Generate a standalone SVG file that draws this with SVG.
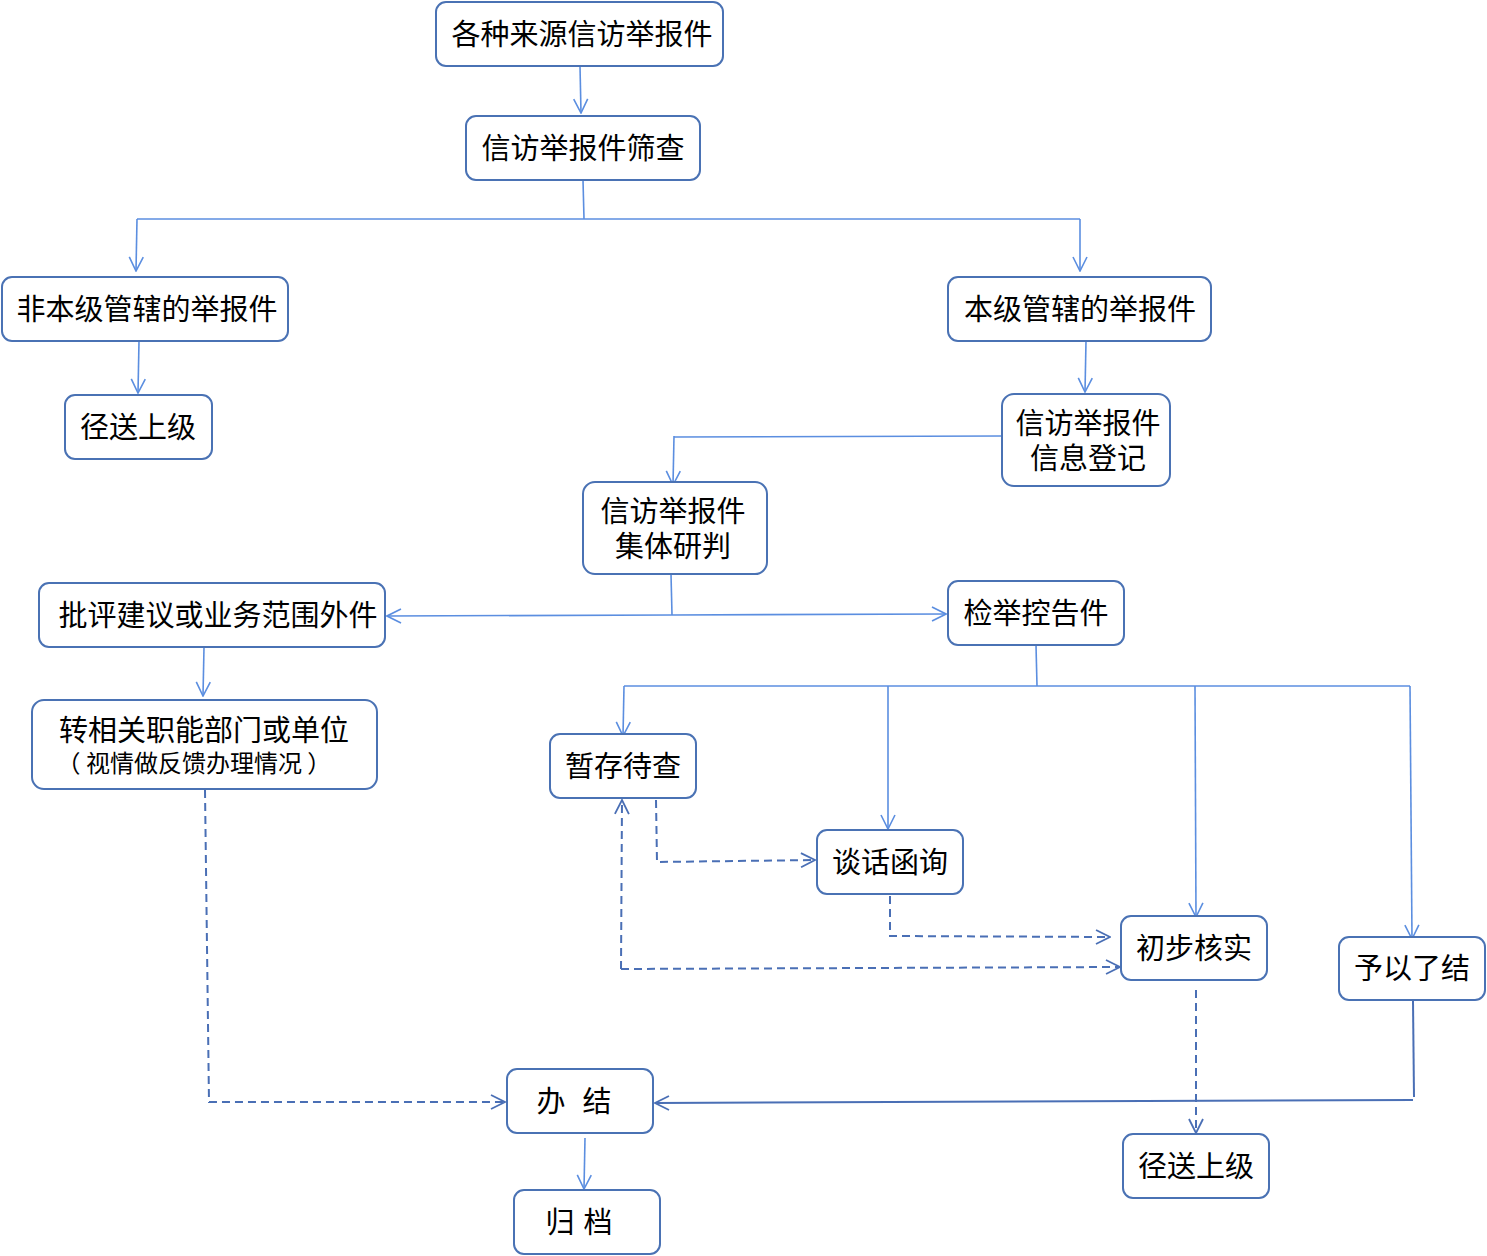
<svg xmlns="http://www.w3.org/2000/svg" width="1487" height="1256" viewBox="0 0 1487 1256">
<style>
.box{fill:#fff;stroke:#4a72b4;stroke-width:2}
.t{font-family:"Noto Sans CJK SC","Noto Sans",sans-serif;font-size:29px;fill:#000;text-anchor:middle}
.s{font-size:24px}
.c{fill:none;stroke:#5b8ee0;stroke-width:1.6}
.d{fill:none;stroke:#4a6fb5;stroke-width:2;stroke-dasharray:8,5}
.k{fill:none;stroke:#4a6fb5;stroke-width:2}
</style>
<defs>
<marker id="a" viewBox="0 0 16 16" refX="15" refY="8" markerWidth="16" markerHeight="16" markerUnits="userSpaceOnUse" orient="auto">
<path d="M1,1 L15,8 L1,15" fill="none" stroke="#5b8ee0" stroke-width="1.6"/>
</marker>
<marker id="b" viewBox="0 0 16 16" refX="15" refY="8" markerWidth="16" markerHeight="16" markerUnits="userSpaceOnUse" orient="auto">
<path d="M1,1 L15,8 L1,15" fill="none" stroke="#4a6fb5" stroke-width="1.8"/>
</marker>
</defs>
<g id="connectors">
<path class="c" d="M580,66 L581,113" marker-end="url(#a)"/>
<path class="c" d="M583,180 L584,219"/>
<path class="c" d="M137,219 L1080,219"/>
<path class="c" d="M137,219 L136,271" marker-end="url(#a)"/>
<path class="c" d="M1080,219 L1080,271" marker-end="url(#a)"/>
<path class="c" d="M139,341 L138,393" marker-end="url(#a)"/>
<path class="c" d="M1086,341 L1085,392" marker-end="url(#a)"/>
<path class="c" d="M1002,436 L674,437"/>
<path class="c" d="M674,436 L673,485" marker-end="url(#a)"/>
<path class="c" d="M671,574 L672,615"/>
<path class="c" d="M672,615 L387,616" marker-end="url(#a)"/>
<path class="c" d="M672,615 L946,614" marker-end="url(#a)"/>
<path class="c" d="M204,647 L203,696" marker-end="url(#a)"/>
<path class="c" d="M1036,645 L1037,686"/>
<path class="c" d="M624,686 L1410,686"/>
<path class="c" d="M624,686 L623,736" marker-end="url(#a)"/>
<path class="c" d="M888,686 L888,829" marker-end="url(#a)"/>
<path class="c" d="M1195,686 L1196,917" marker-end="url(#a)"/>
<path class="c" d="M1410,686 L1412,939" marker-end="url(#a)"/>
<path class="d" d="M656,800 L657,862 L815,860" marker-end="url(#b)"/>
<path class="d" d="M890,896 L890,936 L1110,937" marker-end="url(#b)"/>
<path class="d" d="M621,969 L1120,967" marker-end="url(#b)"/>
<path class="d" d="M621,969 L622,800" marker-end="url(#b)"/>
<path class="d" d="M1196,990 L1196,1133" marker-end="url(#b)"/>
<path class="k" d="M1413,1001 L1414,1097"/>
<path class="k" d="M1413,1100 L655,1103" marker-end="url(#b)"/>
<path class="d" d="M205,790 L209,1102 L505,1102" marker-end="url(#b)"/>
<path class="c" d="M585,1138 L584,1189" marker-end="url(#a)"/>
</g>
<g id="n1"><rect class="box" x="436" y="2" width="287" height="64" rx="10"/><text class="t" x="582" y="45">各种来源信访举报件</text></g>
<g id="n2"><rect class="box" x="466" y="116" width="234" height="64" rx="10"/><text class="t" x="583" y="159">信访举报件筛查</text></g>
<g id="n3"><rect class="box" x="2" y="277" width="286" height="64" rx="10"/><text class="t" x="147" y="320">非本级管辖的举报件</text></g>
<g id="n4"><rect class="box" x="948" y="277" width="263" height="64" rx="10"/><text class="t" x="1080" y="320">本级管辖的举报件</text></g>
<g id="n5"><rect class="box" x="65" y="395" width="147" height="64" rx="10"/><text class="t" x="138" y="438">径送上级</text></g>
<g id="n6"><rect class="box" x="1002" y="394" width="168" height="92" rx="12"/><text class="t" x="1088" y="434">信访举报件</text><text class="t" x="1088" y="469">信息登记</text></g>
<g id="n7"><rect class="box" x="583" y="482" width="184" height="92" rx="12"/><text class="t" x="673" y="522">信访举报件</text><text class="t" x="673" y="557">集体研判</text></g>
<g id="n8"><rect class="box" x="39" y="583" width="346" height="64" rx="10"/><text class="t" x="218" y="626">批评建议或业务范围外件</text></g>
<g id="n9"><rect class="box" x="948" y="581" width="176" height="64" rx="10"/><text class="t" x="1036" y="624">检举控告件</text></g>
<g id="n10"><rect class="box" x="32" y="700" width="345" height="89" rx="12"/><text class="t" x="204" y="741">转相关职能部门或单位</text><text class="t s" x="194" y="772">（ 视情做反馈办理情况 ）</text></g>
<g id="n11"><rect class="box" x="550" y="734" width="146" height="64" rx="10"/><text class="t" x="623" y="777">暂存待查</text></g>
<g id="n12"><rect class="box" x="817" y="830" width="146" height="64" rx="10"/><text class="t" x="890" y="873">谈话函询</text></g>
<g id="n13"><rect class="box" x="1121" y="916" width="146" height="64" rx="10"/><text class="t" x="1194" y="959">初步核实</text></g>
<g id="n14"><rect class="box" x="1339" y="937" width="146" height="63" rx="10"/><text class="t" x="1412" y="979">予以了结</text></g>
<g id="n15"><rect class="box" x="507" y="1069" width="146" height="64" rx="10"/><text class="t" x="551" y="1112">办</text><text class="t" x="597" y="1112">结</text></g>
<g id="n16"><rect class="box" x="514" y="1190" width="146" height="64" rx="10"/><text class="t" x="560" y="1233">归</text><text class="t" x="598" y="1233">档</text></g>
<g id="n17"><rect class="box" x="1123" y="1134" width="146" height="64" rx="10"/><text class="t" x="1196" y="1177">径送上级</text></g>
</svg>
